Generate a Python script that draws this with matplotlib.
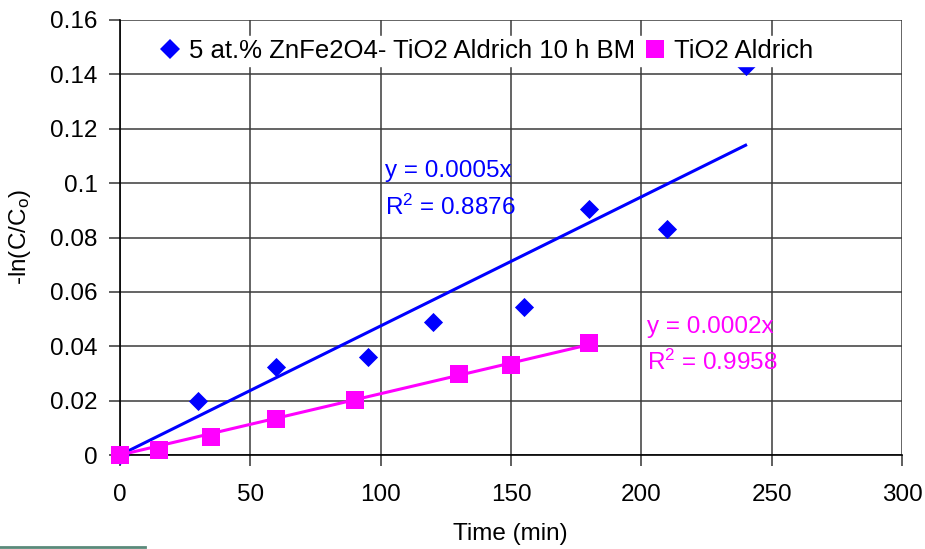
import numpy as np
import matplotlib
matplotlib.use("Agg")
import matplotlib.pyplot as plt
from matplotlib.lines import Line2D

plt.rcParams['font.family'] = ['Liberation Sans', 'DejaVu Sans']
plt.rcParams['mathtext.fontset'] = 'custom'
plt.rcParams['mathtext.rm'] = 'Liberation Sans'
plt.rcParams['mathtext.it'] = 'Liberation Sans'

# Composite ZnFe2O4-TiO2 (ball milled) kinetics
time_zft = [0, 30, 60, 95, 120, 155, 180, 210, 240]
lnc_zft = [0.0, 0.0197, 0.0325, 0.0360, 0.0490, 0.0545, 0.0905, 0.0830, 0.1430]

# Reference TiO2 kinetics
time_tio2 = [0, 15, 35, 60, 90, 130, 150, 180]
lnc_tio2 = [0.0, 0.0018, 0.0068, 0.0133, 0.0201, 0.0298, 0.0332, 0.0413]

label_zft = "5 at.% ZnFe2O4- TiO2 Aldrich 10 h BM"
label_tio2 = "TiO2 Aldrich"
r2_zft = "0.8876"
r2_tio2 = "0.9958"

blue = "#0000FF"
magenta = "#FF00FF"
FS = 17.5

fig = plt.figure(figsize=(9.25, 5.49), dpi=100)
ax = fig.add_axes([120 / 925, 1 - 455 / 549, 782 / 925, 435 / 549])


def fit_origin(x, y):
    x = np.asarray(x, float)
    y = np.asarray(y, float)
    return float((x * y).sum() / (x * x).sum())


k_zft = fit_origin(time_zft, lnc_zft)
k_tio2 = fit_origin(time_tio2, lnc_tio2)

# trend lines forced through the origin
xs = np.array([0, max(time_zft)])
ax.plot(xs, k_zft * xs, color=blue, lw=2.2, zorder=3)
xs2 = np.array([0, max(time_tio2)])
ax.plot(xs2, k_tio2 * xs2, color=magenta, lw=2.2, zorder=3)

ax.scatter(time_zft, lnc_zft, marker='D', s=95, color=blue, zorder=4,
           linewidths=0, clip_on=False)
ax.scatter(time_tio2, lnc_tio2, marker='s', s=160, color=magenta, zorder=5,
           linewidths=0, clip_on=False)

ax.set_xlim(0, 300)
ax.set_ylim(0, 0.16)
ax.set_xticks(np.arange(0, 301, 50))
ax.set_yticks(np.arange(0, 0.161, 0.02))
ax.set_yticklabels(["0", "0.02", "0.04", "0.06", "0.08", "0.1", "0.12", "0.14", "0.16"])
ax.grid(True, color='#3a3a3a', lw=1.1)
ax.set_axisbelow(True)
for side in ['top', 'right']:
    ax.spines[side].set_visible(False)
for side in ['left', 'bottom']:
    ax.spines[side].set_color('black')
    ax.spines[side].set_linewidth(1.2)
ax.tick_params(axis='both', direction='out', length=8, width=1.1, color='#333333',
               labelsize=FS)
ax.tick_params(axis='x', pad=13)
ax.tick_params(axis='y', pad=8)

ax.set_xlabel("Time (min)", fontsize=FS)
ax.xaxis.set_label_coords(0.4987, -0.156)
ax.set_ylabel("-ln(C/C$_\\mathrm{o}$)", fontsize=FS)
ax.yaxis.set_label_coords(-0.111, 0.5)

ax.text(101.7, 0.1022, "y = %.4fx" % k_zft, color=blue, fontsize=FS, va='baseline', ha='left')
ax.text(101.7, 0.0882, "R$^2$ = " + r2_zft, color=blue, fontsize=FS, va='baseline', ha='left')
ax.text(202.3, 0.0449, "y = %.4fx" % k_tio2, color=magenta, fontsize=FS, va='baseline', ha='left')
ax.text(202.3, 0.03125, "R$^2$ = " + r2_tio2, color=magenta, fontsize=FS, va='baseline', ha='left')

handles = [
    Line2D([], [], marker='D', ls='none', color=blue, markersize=10.5, markeredgewidth=0),
    Line2D([], [], marker='s', ls='none', color=magenta, markersize=12.5, markeredgewidth=0),
]
leg = ax.legend(handles, [label_zft, label_tio2], loc='center',
                bbox_to_anchor=((487 - 120) / 782, (455 - 51) / 435), ncol=2,
                frameon=True, fontsize=18.5,
                handlelength=0.7, handletextpad=0.4, columnspacing=0.4,
                borderpad=0.12, borderaxespad=0, fancybox=False)
leg.get_frame().set_edgecolor('white')
leg.get_frame().set_facecolor('white')
leg.get_frame().set_alpha(1)
leg.set_zorder(6)

# thin rule at the lower-left edge of the page
fig.add_artist(Line2D([0, 145 / 925], [2 / 549, 2 / 549], color='#5a8a7a', lw=2))

fig.savefig("out.png", dpi=100)
